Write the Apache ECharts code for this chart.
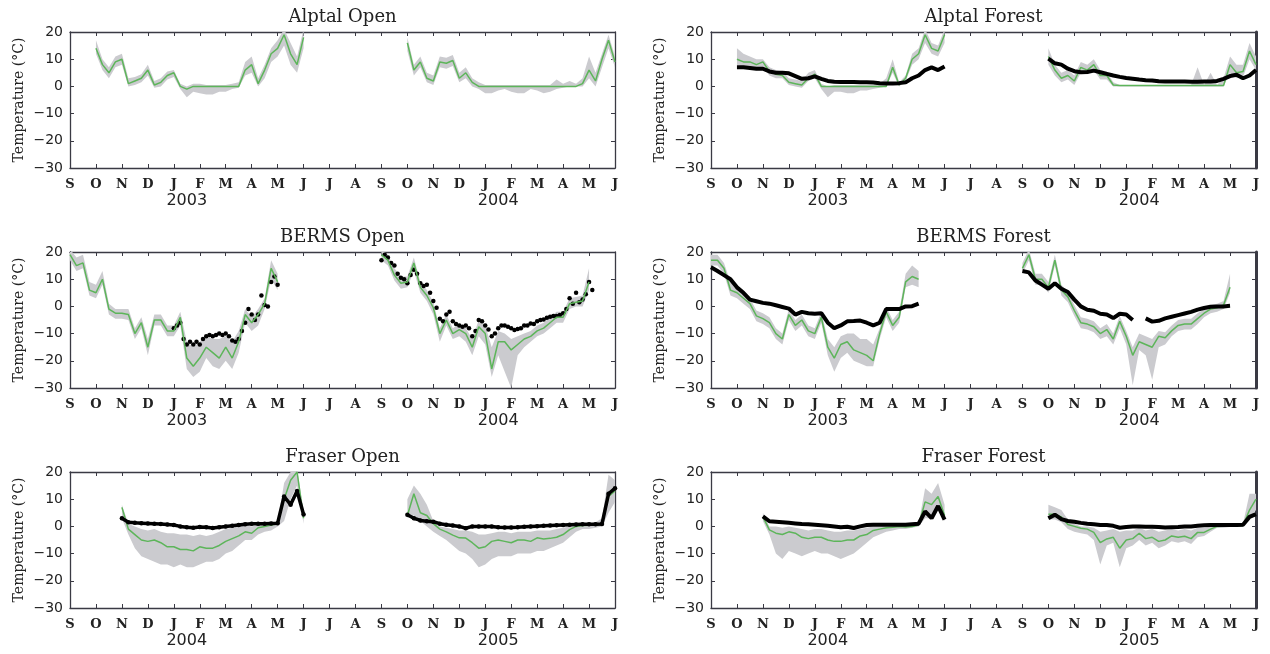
<!DOCTYPE html>
<html>
<head>
<meta charset="utf-8">
<script src="https://cdn.jsdelivr.net/npm/echarts@6/dist/echarts.min.js"></script>
<style>
  html, body { margin: 0; padding: 0; background: #fff; }
  #main { width: 1270px; height: 654px; }
</style>
</head>
<body>
<div id="main"></div>
<script>
// x axis: months from September of the first season (0) to June two years later (21)
var monthLabels = ['S','O','N','D','J','F','M','A','M','J','J','A','S','O','N','D','J','F','M','A','M','J'];
var yearsAB = ['2003', '2004'];   // Alptal, BERMS
var yearsF  = ['2004', '2005'];   // Fraser

// ---- Alptal Open (model = green line, hi/lo = grey range), weekly steps ----
var aoModel1 = [14,8,5,9,10,1,2,3,6,0.5,1.5,4,5,0,-1,0,0,0,0,0,0,0,0,6,8,1,6,12,14,19,12,8,18];
var aoHi1    = [17,10,7,11,12,3,3.5,4.5,8,2,3,5.5,6,1,0,1,1,0.5,0.5,0.5,0.5,1,1.5,9,11,3,8,14,17,21,16,11,21];
var aoLo1    = [12,6,3,7,8,0,0.5,1.5,4,-0.5,0,2.5,3.5,-1,-4,-2,-2.5,-3,-3,-2,-2,-1,-0.5,4,5,0,3,9,11,15,8,5,14];
var aoModel2 = [16,6,9,3,2,9,8.5,9.5,3,5,1.5,0,0,0,0,0,0,0,0,0,0,0,0,0,0,0,0,1,6,2,10,17,9];
var aoHi2    = [18,8,11,5,4,11,10.5,11.5,5,7,3,1.5,0.5,0.5,0.5,0.5,0.5,0.5,0.5,0.5,0.5,0.5,0.5,2.5,1,2,1,3,11,5,12,19,11];
var aoLo2    = [13,4,7,1.5,0.5,7,6.5,7.5,1.5,3,0,-1,-2.5,-2.5,-1.5,-1,-2,-2.5,-2.5,-1,-1.5,-2.5,-2,-1,-0.5,0,0,0,3,0,7,14,7];

// ---- Alptal Forest ----
var afModel1 = [10,9,9,8,9,5.5,4.5,4,1.5,1,0.5,3,4.5,0,0,0,0,0,0,0,0,0,0,0,7,0.5,3,10,12,19,14,13,19];
var afHi1    = [14,12,11,10,10,7,6,5.5,3,2.5,2,5,6,1,0,0.5,0.5,0.5,0.5,0.5,0.5,0.5,1,3,10,1.5,4,12,14,21,16,15,21];
var afLo1    = [8,7,7,6,7,4,3,3,0.5,0,-0.5,2,3,-1,-4,-2,-2,-2.5,-2.5,-1.5,-1.5,-1,-0.5,0,5,0,2,8,10,16,12,11,16];
var afObs1   = [7,7,6.8,6.5,6.5,5.5,5,5,4.8,3.8,2.8,3,3.7,2.8,2,1.7,1.6,1.6,1.6,1.5,1.5,1.4,1.2,1.1,1.1,1.2,1.5,3,4,6,7,6,7.3];
var afModel2 = [11,6,3,4,2,7,6,8,4,4,0.5,0.3,0.3,0.3,0.3,0.3,0.3,0.3,0.3,0.3,0.3,0.3,0.3,0.3,0.3,0.3,0.3,0.3,8,5,5.5,13,8];
var afHi2    = [14,8,5,6,4,9,8,10,6,5.5,1.5,0.5,0.5,0.5,0.5,0.5,0.5,0.5,0.5,0.5,0.5,0.5,0.5,7,0.5,5,0.5,3,11,8,8,16,11];
var afLo2    = [8,4,1.5,2.5,0.5,5,4.5,6,2.5,2.5,0,0,0,0,0,0,0,0,0,0,0,0,0,0,0,0,0,0,5,3,3.5,10,6];
var afObs2   = [10.2,8.5,8,6.5,5.6,5.2,5.3,5.8,5.2,4.6,4,3.5,3.1,2.8,2.5,2.3,2.2,1.9,1.8,1.8,1.8,1.8,1.7,1.7,1.8,1.8,2,2.8,3.8,4.3,3,4,6];

// ---- BERMS Open (observations every ~4 days) ----
var boModel1 = [19,15,16,6,5,10,-1,-2.5,-2.5,-3,-10,-6,-15,-5,-5,-9,-9,-4,-19,-22,-19,-15,-17,-19,-15,-19,-13,-3,-6,-3,1,14,9];
var boHi1    = [21,18,19,9,8,13,1,-1,-1,-1,-8,-4,-12,-3,-3,-7,-7,-2,-13,-15,-13,-11,-12,-12,-11,-13,-9,-1,-4,-1,3,17,12];
var boLo1    = [17,13,14,4,3,8,-3,-4.5,-4.5,-5,-12,-8,-18,-7,-7,-11,-11,-7,-23,-26,-24,-19,-22,-23,-20,-23,-17,-6,-9,-7,-1,10,6];
var boObs1   = [-8,-7,-6,-12,-14,-13,-14,-13,-14,-12,-11,-10.5,-11,-10.5,-10,-10.5,-10,-11,-12.5,-13,-12,-9,-6,-1,-3,-5,-3,4,0.5,0,9,11,8];
var boModel2 = [19,17,11.5,8.5,9,16,7,4,-0.5,-10,-5,-10,-8.5,-10,-15,-7.5,-10,-23,-13,-13,-16,-14,-12,-11,-9,-8,-6,-4,-4,1,1.5,2,9];
var boHi2    = [21,19,14,11,11,18,9,6,1.5,-8,-3,-8,-6.5,-8,-12,-5,-7,-15,-9,-10,-12,-11,-10,-9,-7,-6,-4,-2,-2,3,3.5,4,14];
var boLo2    = [17,15,9.5,6.5,7,13,5,2,-3,-13,-7,-12,-11,-13,-18,-11,-14,-26,-18,-24,-30,-18,-15,-13,-11,-10,-8,-6,-6,-1,0,0,6];
var boObs2   = [17,19,18,16,15,12,10.5,10,8.5,11.5,13.5,12,8.5,7.5,8,5,2,-0.5,-4.5,-5.5,-3,-2,-5.5,-6.5,
                -7,-7.5,-7,-8,-11,-9,-5,-5.5,-7,-8.5,-11,-10,-8,-7,-7,-7.5,-8,-8.7,-8.3,-8,-7,-7,-6.3,-6.5,
                -5.5,-5,-4.8,-4.2,-3.8,-3.5,-3.5,-3.2,-2.5,-1,3,1,5,1.5,2.5,4.5,9,6];

// ---- BERMS Forest ----
var bfModel1 = [17,17,14,6,5,3,1,-3.5,-4.5,-6,-10,-12,-3,-7,-5,-9,-10,-4,-15,-19,-14,-13,-16,-17,-18,-20,-10,-2,-7,-4,9,11,10];
var bfHi1    = [19,19,16,9,7,5,3,-1.5,-2.5,-4,-8,-10,-1,-5,-3,-7,-8,-2,-12,-15,-11,-10,-10,-12,-12,-14,-8,0,-5,-2,12,15,13];
var bfLo1    = [15,15,12,4,3,1,-1,-5.5,-6.5,-8,-12,-14,-5,-9,-7,-11,-12,-6,-18,-24,-19,-17,-20,-21,-22,-22,-12,-4,-9,-6,7,8,7];
var bfObs1   = [14.4,13,11.5,10,7,5,2.5,1.9,1.3,1,0.4,-0.2,-0.8,-3,-2,-2.5,-2.7,-2.5,-6,-8,-7,-5.5,-5.4,-5.2,-6,-7,-6,-1,-1,-1,0,0.1,1];
var bfModel2 = [14,19,10,10,7,17,6,3.5,-1.5,-6,-6.5,-7.5,-10,-8.5,-12,-5.5,-11,-18,-13,-14,-15,-11,-11.5,-9,-7,-6.5,-6.5,-4.5,-2.5,-1,-0.5,0.5,7];
var bfHi2    = [16,21,12,12,9,19,8,5.5,0.5,-4,-4.5,-5.5,-8,-6.5,-10,-3.5,-9,-15,-10,-11,-12,-9,-9.5,-7,-5,-4.5,-4.5,-2.5,-1,0.5,1,2,12];
var bfLo2    = [12,17,8,8,5,15,4,1.5,-3.5,-8,-8.5,-9.5,-12,-11,-14,-8,-14,-29,-16,-18,-27,-15,-14,-11,-9,-8.5,-8.5,-6.5,-4,-2.5,-2,-1,5];
var bfObs2   = [13,12.5,9.5,8,6.5,8.5,6.5,5.3,2.5,0,-1.2,-1.6,-2.7,-3,-4.3,-2.7,-3,-5,null,-4.4,-5.6,-5.3,-4.4,-3.8,-3.2,-2.6,-2,-1.2,-0.6,-0.1,0,0,0.2];

// ---- Fraser Open ----
var foModel1 = [7,-1,-3,-5,-5.5,-5,-6,-7.5,-7.5,-8.5,-8.5,-9,-7.5,-8,-8,-7,-5.5,-4.5,-3.5,-2,-2.5,-0.5,0,0.5,1,10,17,20,3];
var foHi1    = [8,1,0,-1,-1.5,-1,-2,-2.5,-2.5,-3,-3,-3.5,-3,-3.5,-3,-2,-1,-0.5,0,0.5,0,0.5,1,1,1.5,16,20,21,6];
var foLo1    = [3,-3,-8,-11,-12,-13,-14,-14,-15,-14,-15,-15,-14,-13,-13,-12,-10,-9,-7,-5,-5,-3,-2,-1.5,0,2,10,15,1];
var foObs1   = [3,1.5,1.3,1.2,1.1,1,0.9,0.7,0.5,0,-0.3,-0.5,-0.2,-0.3,-0.6,-0.3,0,0.2,0.5,0.8,1,1,1,1.1,1.2,11,8,13,4.4];
var foModel2 = [4,12,5,4,1,-1,-2,-3.2,-4.2,-4.3,-6,-8,-7.5,-5.5,-5,-5.5,-6,-5,-5,-5.5,-4.2,-4.6,-4.4,-4,-3,-1.2,0,0.3,0.4,0.4,0.8,11,13];
var foHi2    = [10,15,12,8,2,0,-0.5,-1,-1.5,-1.5,-2,-3,-3,-2.5,-2,-2,-2.5,-2,-2,-2,-1.5,-1.5,-1.5,-1,-0.5,0,0.5,0.8,1,1.5,3,19,17];
var foLo2    = [3,4,2,0,-2,-3.5,-5,-7,-9,-10,-12,-15,-14,-12,-11,-11,-11,-10,-10,-10,-9,-9,-8,-7,-6,-4,-2,-1,-1,-0.5,0,5,9];
var foObs2   = [4.3,3,2.2,1.9,1.7,1,0.6,0.3,0,-0.7,0,0,0,0,-0.3,-0.4,-0.4,-0.3,-0.1,0,0.1,0.2,0.3,0.4,0.5,0.6,0.7,0.8,0.8,0.8,0.9,12,14];

// ---- Fraser Forest ----
var ffModel1 = [3.5,-1.3,-2.5,-3,-2,-2.5,-4,-4.5,-4,-4,-5,-5.5,-5.5,-5,-5,-3.5,-3,-1.5,-1,-0.5,-0.3,0,-0.2,0,0.5,9,8,11,4];
var ffHi1    = [5,0,0,-0.5,0,-0.5,-1,-1.5,-1,-1,-1.5,-2,-2,-1.5,-1.5,-1,-0.5,0,0,0.5,0.5,0.5,0.5,0.5,1,14,12,16,8];
var ffLo1    = [2,-3,-10,-12,-9,-10,-11,-10,-9,-10,-10,-11,-12,-11,-10,-8,-6,-4,-3,-2,-1.5,-1,-1,-0.5,0,3,3,6,2];
var ffObs1   = [3.7,1.9,1.7,1.5,1.3,1.1,0.9,0.8,0.6,0.4,0.2,0,-0.3,-0.1,-0.6,0,0.5,0.6,0.6,0.6,0.6,0.6,0.6,0.8,1,5.5,3,7.5,2.5];
var ffModel2 = [4.5,4.5,3.5,0.7,0,-0.7,-1,-2.2,-6,-4.6,-4,-8,-5,-4.5,-2.5,-4.5,-4,-5.5,-5,-3.5,-4,-3.6,-4.5,-2.2,-2.2,-1,0,0.1,0.2,0.2,0.3,6,10];
var ffHi2    = [8,7,6,2.5,1,0,0,-0.5,-2,-1.5,-1,-2,-1.5,-1.5,-0.5,-1.5,-1,-2,-1.5,-1,-1.5,-1,-1.5,-0.5,-0.5,0,0.5,0.5,0.5,0.5,1,12,12];
var ffLo2    = [2.5,2.5,1.5,-1,-2,-2.5,-3,-5,-14,-7,-6,-15,-8,-7,-5,-7,-6,-8,-7,-5.5,-6,-5.5,-6.5,-4,-3.5,-2,-0.5,-0.5,-0.2,-0.2,0,3,6];
var ffObs2   = [3,4.3,2.7,2,1.7,1.3,1,0.8,0.5,0.5,0.2,-0.5,-0.2,0,0,-0.1,-0.1,-0.2,-0.4,-0.3,-0.2,0,0,0.2,0.4,0.5,0.5,0.5,0.5,0.5,0.6,3.5,4.5];

// start = month offset of the first value, step = months between values
var panels = [
  { title: 'Alptal Open', years: yearsAB, obsStyle: null,
    model: [{ start: 1, model: aoModel1, hi: aoHi1, lo: aoLo1 }, { start: 13, model: aoModel2, hi: aoHi2, lo: aoLo2 }],
    obs: [] },
  { title: 'Alptal Forest', years: yearsAB, obsStyle: 'line',
    model: [{ start: 1, model: afModel1, hi: afHi1, lo: afLo1 }, { start: 13, model: afModel2, hi: afHi2, lo: afLo2 }],
    obs: [{ start: 1, step: 0.25, vals: afObs1 }, { start: 13, step: 0.25, vals: afObs2 }] },
  { title: 'BERMS Open', years: yearsAB, obsStyle: 'dots',
    model: [{ start: 0, model: boModel1, hi: boHi1, lo: boLo1 }, { start: 12, model: boModel2, hi: boHi2, lo: boLo2 }],
    obs: [{ start: 4, step: 0.125, vals: boObs1 }, { start: 12, step: 0.125, vals: boObs2 }] },
  { title: 'BERMS Forest', years: yearsAB, obsStyle: 'line',
    model: [{ start: 0, model: bfModel1, hi: bfHi1, lo: bfLo1 }, { start: 12, model: bfModel2, hi: bfHi2, lo: bfLo2 }],
    obs: [{ start: 0, step: 0.25, vals: bfObs1 }, { start: 12, step: 0.25, vals: bfObs2 }] },
  { title: 'Fraser Open', years: yearsF, obsStyle: 'linedots',
    model: [{ start: 2, model: foModel1, hi: foHi1, lo: foLo1 }, { start: 13, model: foModel2, hi: foHi2, lo: foLo2 }],
    obs: [{ start: 2, step: 0.25, vals: foObs1 }, { start: 13, step: 0.25, vals: foObs2 }] },
  { title: 'Fraser Forest', years: yearsF, obsStyle: 'line',
    model: [{ start: 2, model: ffModel1, hi: ffHi1, lo: ffLo1 }, { start: 13, model: ffModel2, hi: ffHi2, lo: ffLo2 }],
    obs: [{ start: 2, step: 0.25, vals: ffObs1 }, { start: 13, step: 0.25, vals: ffObs2 }] }
];

var STEP = 0.25;

function pts(start, step, vals) {
  return vals.map(function (v, i) {
    return [start + i * step, v == null ? '-' : v];
  });
}

// grey range drawn as one polygon through the axes' own coordinate mapping
function bandSeries(s, xi, yi) {
  var rows = s.lo.map(function (l, i) { return [s.start + i * STEP, l, s.hi[i]]; });
  return {
    type: 'custom', xAxisIndex: xi, yAxisIndex: yi, silent: true, clip: true,
    data: rows,
    encode: { x: 0, y: [1, 2] },
    renderItem: function (params, api) {
      if (params.dataIndex !== 0) return null;
      var top = rows.map(function (r) { return api.coord([r[0], r[2]]); });
      var bottom = rows.map(function (r) { return api.coord([r[0], r[1]]); }).reverse();
      return {
        type: 'polygon',
        shape: { points: top.concat(bottom) },
        style: { fill: '#cbcbcf', stroke: null }
      };
    }
  };
}

var frameColor = '#3a3a44';
var textColor = '#222';
var gridLefts = [70, 711];
var gridTops = [32, 252, 472];
var gridW = 545, gridH = 136;

var option = {
  backgroundColor: '#fff',
  animation: false,
  title: [], grid: [], xAxis: [], yAxis: [], series: []
};

panels.forEach(function (p, g) {
  var col = g % 2, row = Math.floor(g / 2);
  var left = gridLefts[col], top = gridTops[row];
  var xi = g * 3, yi = g * 2;

  option.grid.push({ left: left, top: top, width: gridW, height: gridH });
  option.title.push({
    text: p.title, left: left + gridW / 2, top: top - 24, textAlign: 'center', padding: 0,
    textStyle: { fontFamily: 'DejaVu Serif', fontSize: 18, fontWeight: 'normal', color: textColor }
  });

  var xBase = {
    gridIndex: g, type: 'value', min: 0, max: 21, interval: 1,
    splitLine: { show: false },
    axisLine: { onZero: false, lineStyle: { color: frameColor, width: 1.3 } },
    axisTick: { inside: true, length: 4, lineStyle: { color: frameColor } }
  };
  option.xAxis.push(Object.assign({}, xBase, {
    position: 'bottom',
    axisLabel: {
      margin: 10, fontFamily: 'DejaVu Serif', fontWeight: 'bold', fontSize: 13, color: textColor,
      formatter: function (v) { return monthLabels[Math.round(v)]; }
    }
  }));
  option.xAxis.push(Object.assign({}, xBase, { position: 'top', axisLabel: { show: false } }));
  option.xAxis.push({
    gridIndex: g, type: 'value', min: 0, max: 21, position: 'bottom',
    axisLine: { show: false }, axisTick: { show: false }, splitLine: { show: false },
    axisLabel: {
      customValues: [4.5, 16.5], margin: 25,
      fontFamily: 'DejaVu Sans', fontSize: 16, color: textColor,
      formatter: function (v) { return v < 10 ? p.years[0] : p.years[1]; }
    }
  });

  var yBase = {
    gridIndex: g, type: 'value', min: -30, max: 20, interval: 10,
    splitLine: { show: false },
    axisTick: { inside: true, length: 4, lineStyle: { color: frameColor } }
  };
  option.yAxis.push(Object.assign({}, yBase, {
    position: 'left',
    axisLine: { onZero: false, lineStyle: { color: frameColor, width: 1.3 } },
    name: 'Temperature (°C)', nameLocation: 'middle', nameGap: 44, nameRotate: 90,
    nameTextStyle: { fontFamily: 'DejaVu Serif', fontSize: 14, color: textColor },
    axisLabel: {
      margin: 7, fontFamily: 'DejaVu Sans', fontSize: 14, color: textColor,
      formatter: function (v) { return String(v).replace('-', '\u2212'); }
    }
  }));
  option.yAxis.push(Object.assign({}, yBase, {
    position: 'right',
    axisLine: { onZero: false, lineStyle: { color: frameColor, width: col === 1 ? 3 : 1.3 } },
    axisLabel: { show: false }
  }));

  p.model.forEach(function (s) {
    option.series.push(bandSeries(s, xi, yi));
  });
  p.model.forEach(function (s) {
    option.series.push({
      type: 'line', xAxisIndex: xi, yAxisIndex: yi,
      data: pts(s.start, STEP, s.model), symbol: 'none',
      lineStyle: { color: '#5db55a', width: 1.5 }
    });
  });

  p.obs.forEach(function (o) {
    var d = pts(o.start, o.step, o.vals);
    if (p.obsStyle === 'dots') {
      option.series.push({
        type: 'scatter', xAxisIndex: xi, yAxisIndex: yi, data: d,
        symbolSize: 4.5, itemStyle: { color: '#000', opacity: 1 }
      });
    } else if (p.obsStyle === 'linedots') {
      option.series.push({
        type: 'line', xAxisIndex: xi, yAxisIndex: yi, data: d,
        symbol: 'circle', symbolSize: 4.5, showSymbol: true, showAllSymbol: true,
        itemStyle: { color: '#000', opacity: 1 }, lineStyle: { color: '#000', width: 3.5 }
      });
    } else {
      option.series.push({
        type: 'line', xAxisIndex: xi, yAxisIndex: yi, data: d, symbol: 'none',
        connectNulls: false, lineStyle: { color: '#000', width: 4 }
      });
    }
  });
});

var chart = echarts.init(document.getElementById('main'));
chart.setOption(option);
</script>
</body>
</html>
